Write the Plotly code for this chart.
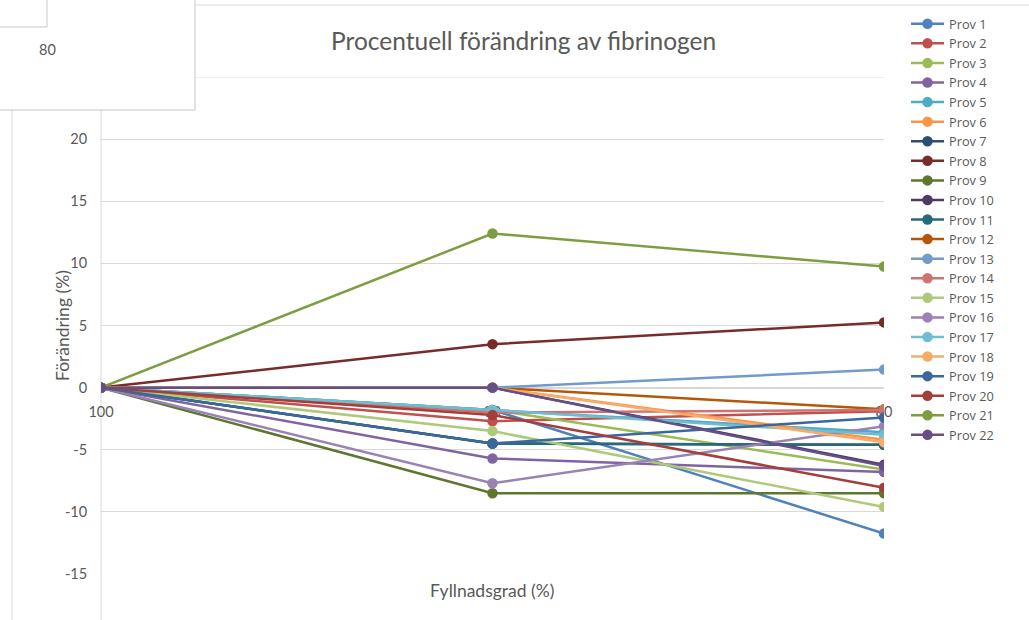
import plotly.graph_objects as go

# Fyllnadsgrad (%) categories
fill_levels = ["100", "90", "80"]

# Procentuell förändring (%) per prov, one value per fill level
prov_names = [f"Prov {i}" for i in range(1, 23)]
prov_1 = [0, -1.8, -11.75]
prov_2 = [0, -2.7, -1.9]
prov_3 = [0, -1.8, -6.6]
prov_4 = [0, -5.7, -6.8]
prov_5 = [0, -1.8, -3.6]
prov_6 = [0, 0, -4.2]
prov_7 = [0, -4.5, -4.6]
prov_8 = [0, 3.5, 5.25]
prov_9 = [0, -8.5, -8.5]
prov_10 = [0, 0, -6.2]
prov_11 = [0, -4.5, -4.6]
prov_12 = [0, 0, -1.75]
prov_13 = [0, 0, 1.45]
prov_14 = [0, -2.0, -1.8]
prov_15 = [0, -3.5, -9.6]
prov_16 = [0, -7.7, -3.1]
prov_17 = [0, -1.8, -3.8]
prov_18 = [0, 0, -4.4]
prov_19 = [0, -4.5, -2.4]
prov_20 = [0, -2.2, -8.05]
prov_21 = [0, 12.4, 9.75]
prov_22 = [0, 0, -6.3]

prov_values = [prov_1, prov_2, prov_3, prov_4, prov_5, prov_6, prov_7, prov_8,
               prov_9, prov_10, prov_11, prov_12, prov_13, prov_14, prov_15,
               prov_16, prov_17, prov_18, prov_19, prov_20, prov_21, prov_22]

prov_colors = ["#4F81BD", "#C0504D", "#9BBB59", "#8064A2", "#4BACC6", "#F79646",
               "#2C4D75", "#772C2A", "#5F7530", "#4D3B62", "#276A7C", "#B65708",
               "#729ACA", "#CD7371", "#AFC97A", "#9983B5", "#6FBDD1", "#F9AB6B",
               "#3A679C", "#A33E3B", "#7E9C40", "#664F86"]

# y axis ticks (hyphen minus, as in the workbook)
y_ticks = [-15, -10, -5, 0, 5, 10, 15, 20, 25]
y_tick_text = ["-15", "-10", "-5", "0", "5", "10", "15", "20", "25"]

FONT = "Lato, 'Open Sans', sans-serif"
LEG_FONT = "'Open Sans', Lato, sans-serif"
TXT = "#595959"
GRID = "#D9D9D9"

W, H = 1029, 620
L, R, T, B = 101, 884, 77, 574


def px(x):
    return (x - L) / (R - L)


def py(y):
    return (B - y) / (B - T)


fig = go.Figure()
for name, vals, col in zip(prov_names, prov_values, prov_colors):
    fig.add_trace(go.Scatter(
        x=fill_levels, y=vals, name=name, mode="lines+markers",
        line=dict(color=col, width=2.5),
        marker=dict(color=col, size=10.5),
    ))

ymin, ymax = -15, 25

fig.update_layout(
    width=W, height=H,
    margin=dict(l=L, r=W - R, t=T, b=H - B),
    paper_bgcolor="white", plot_bgcolor="white",
    font=dict(family=FONT, color=TXT, size=14),
    showlegend=True,
    legend=dict(
        xref="container", yref="container", x=906 / W, y=1 - 9 / H,
        xanchor="left", yanchor="top", maxheight=610,
        font=dict(size=12.75, color=TXT, family=LEG_FONT),
        itemwidth=33, tracegroupgap=0, bgcolor="rgba(0,0,0,0)",
    ),
    xaxis=dict(
        type="category", categoryorder="array", categoryarray=fill_levels,
        range=[0, 2], anchor="free", position=(0 - ymin) / (ymax - ymin),
        showgrid=False, zeroline=False, showline=True, linecolor=GRID, linewidth=1,
        ticks="outside", ticklen=11, tickcolor="rgba(0,0,0,0)",
        tickfont=dict(size=14.5, color=TXT), layer="below traces",
    ),
    yaxis=dict(
        range=[ymin, ymax], tickmode="array", tickvals=y_ticks, ticktext=y_tick_text,
        showgrid=True, gridcolor=GRID, gridwidth=1, zeroline=False,
        ticks="outside", ticklen=10, tickcolor="rgba(0,0,0,0)",
        tickfont=dict(size=14.5, color=TXT),
    ),
    annotations=[
        dict(text="Procentuell förändring av fibrinogen", xref="paper", yref="paper",
             x=px(523), y=py(40), showarrow=False, xanchor="center", yanchor="middle",
             font=dict(size=24.5, color=TXT, family=FONT)),
        dict(text="Förändring (%)", xref="paper", yref="paper", textangle=-90,
             x=px(62), y=py(326), showarrow=False, xanchor="center", yanchor="middle",
             font=dict(size=17.5, color=TXT, family=FONT)),
        dict(text="Fyllnadsgrad (%)", xref="paper", yref="paper",
             x=px(492), y=py(590), showarrow=False, xanchor="center", yanchor="middle",
             font=dict(size=17.5, color=TXT, family=FONT)),
        dict(text="80", xref="paper", yref="paper",
             x=px(47), y=py(50), showarrow=False, xanchor="center", yanchor="middle",
             font=dict(size=14.5, color=TXT, family=FONT)),
    ],
    shapes=[
        # chart area border
        dict(type="line", xref="paper", yref="paper", x0=px(12), x1=px(12),
             y0=py(5), y1=py(H + 5), line=dict(color=GRID, width=1), layer="below"),
        dict(type="line", xref="paper", yref="paper", x0=px(12), x1=px(W + 5),
             y0=py(5), y1=py(5), line=dict(color=GRID, width=1), layer="below"),
        # top gridline and vertical axis line
        dict(type="line", xref="paper", yref="y", x0=0, x1=1, y0=ymax, y1=ymax,
             line=dict(color=GRID, width=1), layer="below"),
        dict(type="line", xref="paper", yref="paper", x0=0, x1=0,
             y0=py(T), y1=py(H + 5), line=dict(color=GRID, width=1), layer="below"),
        # overlay box with value label
        dict(type="rect", xref="paper", yref="paper", x0=px(-2), x1=px(195),
             y0=py(110), y1=py(-2), fillcolor="white",
             line=dict(color="#C8C8C8", width=1), layer="above"),
        dict(type="rect", xref="paper", yref="paper", x0=px(-2), x1=px(47),
             y0=py(27), y1=py(-2), fillcolor="white",
             line=dict(color="#C8C8C8", width=1), layer="above"),
    ],
)

fig.write_html("out.html")
